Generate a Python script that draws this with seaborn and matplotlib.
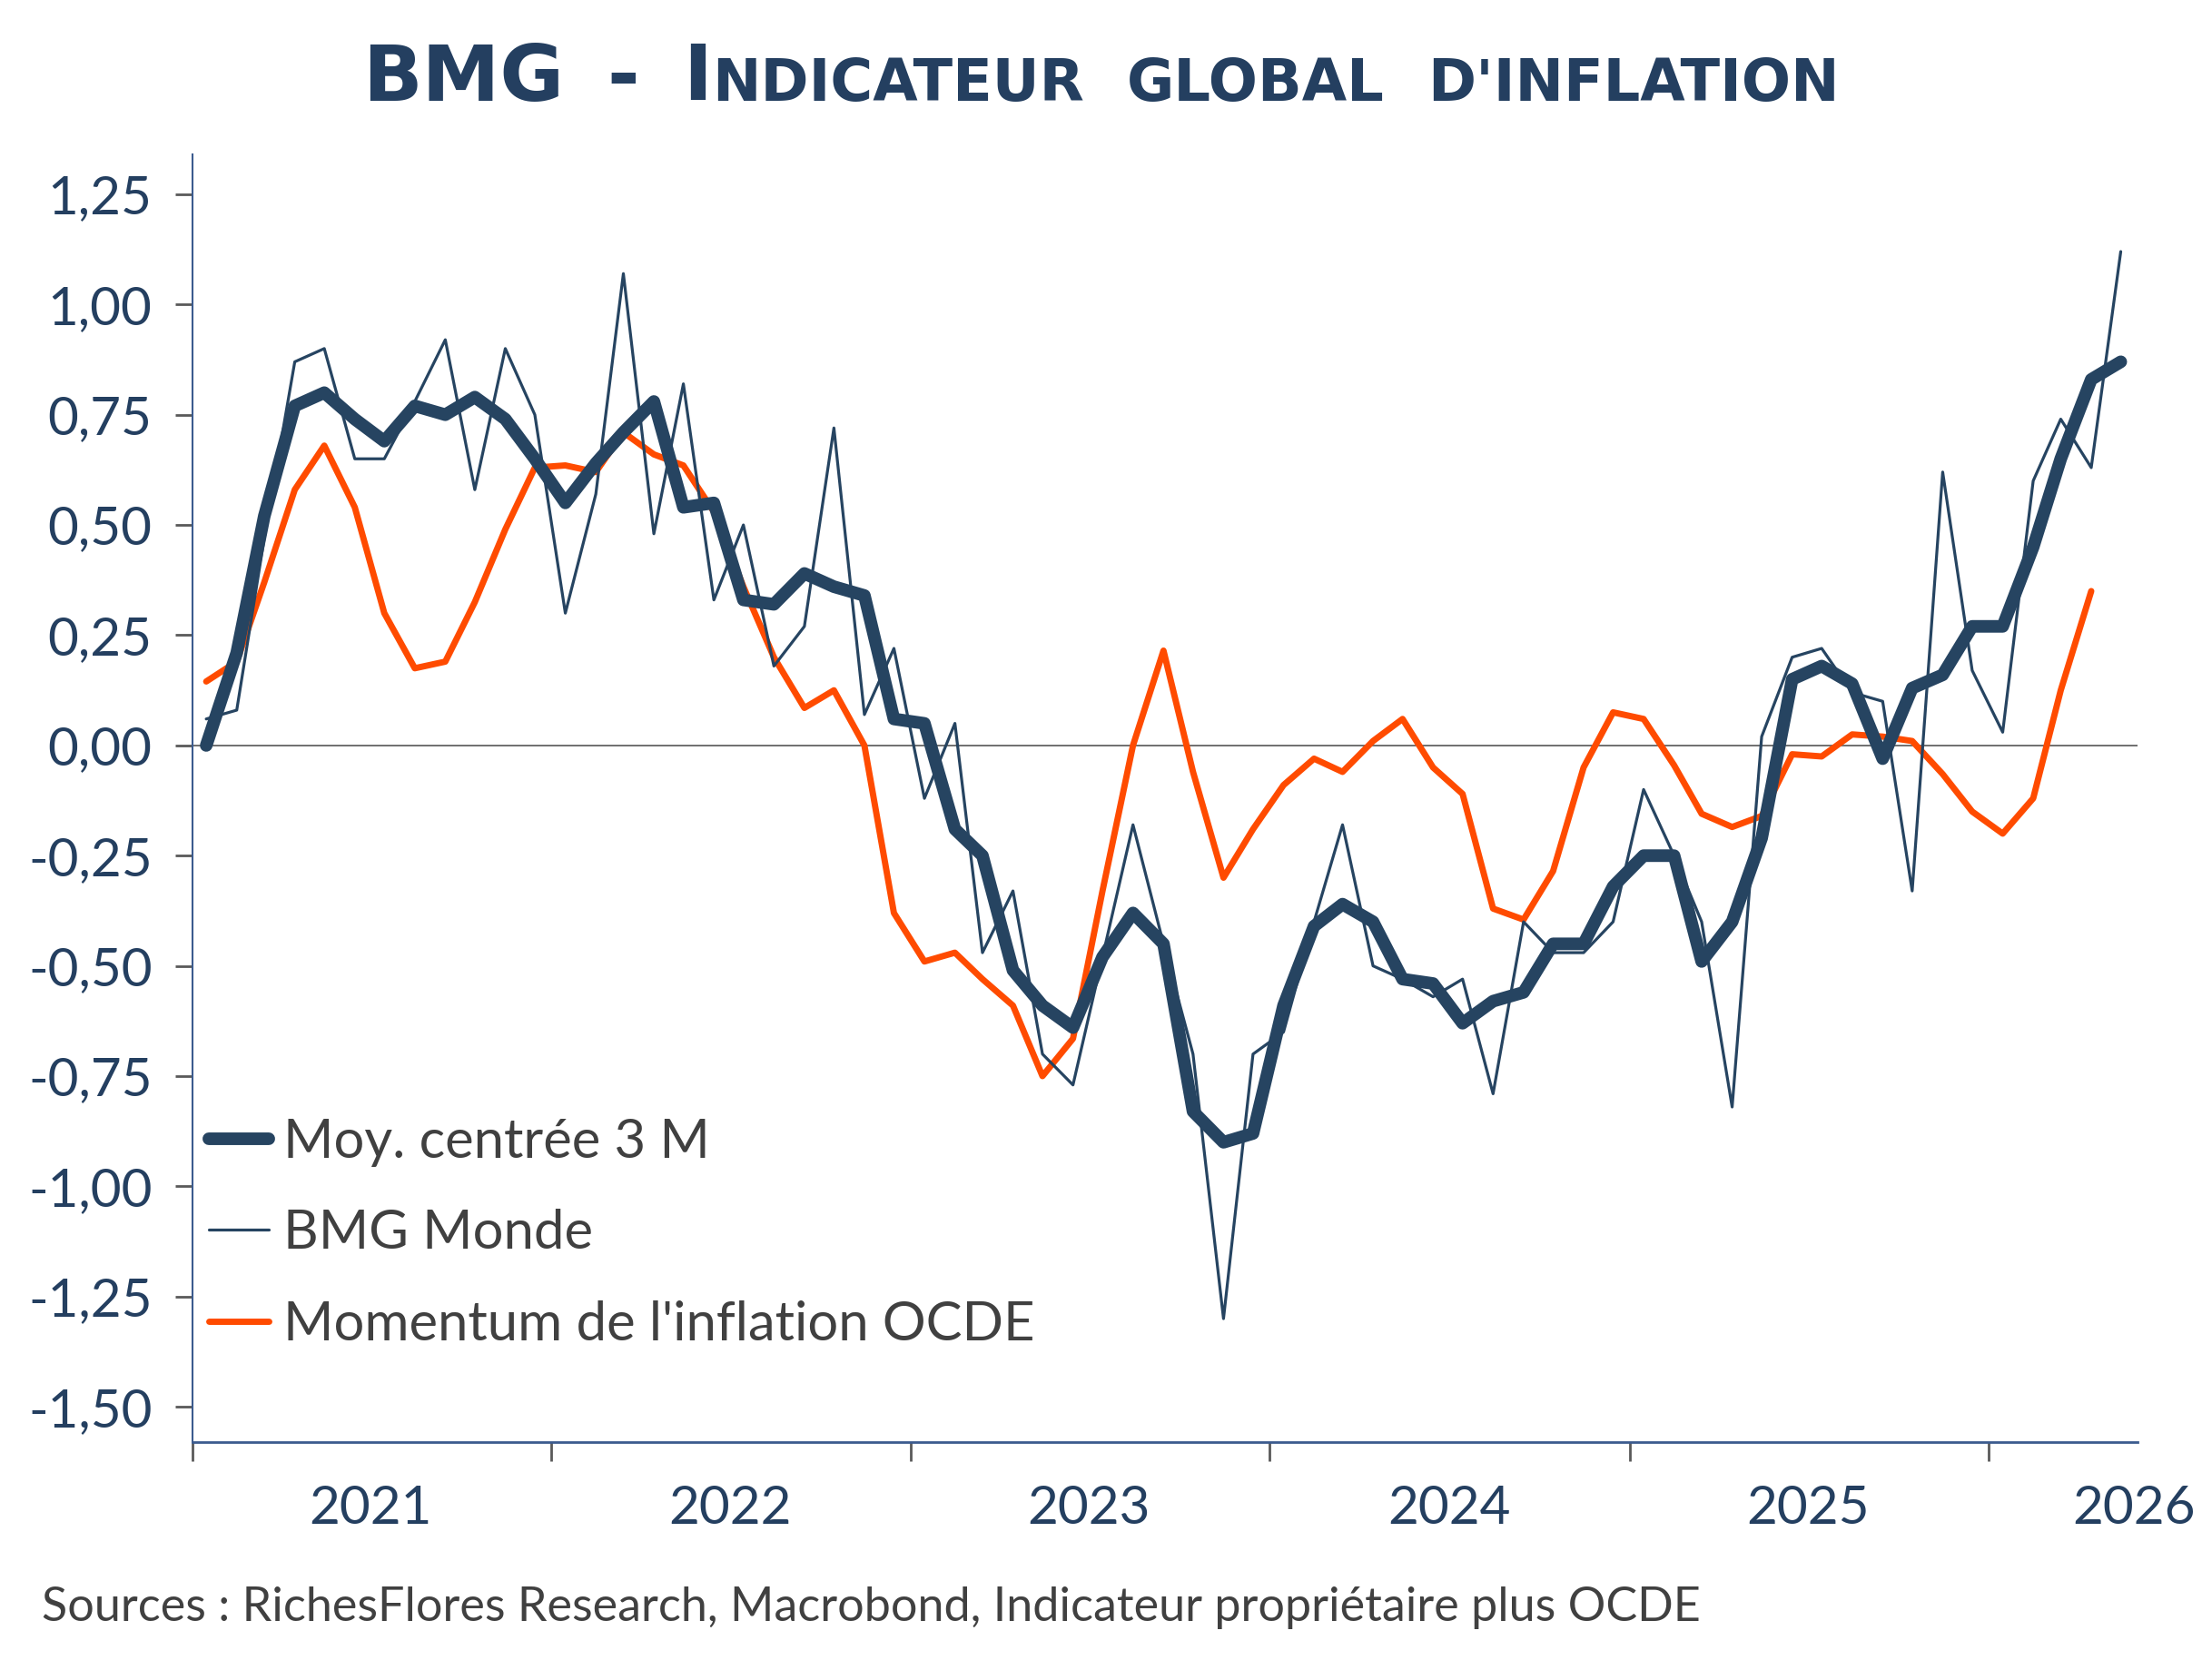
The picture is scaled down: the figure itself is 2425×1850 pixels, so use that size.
import numpy as np
import pandas as pd
import matplotlib
matplotlib.use("Agg")
import matplotlib.pyplot as plt
import seaborn as sns
from matplotlib.offsetbox import TextArea, HPacker, AnchoredOffsetbox

# monthly data, Jan 2021 -> May 2026 (points drawn mid-month)
months = pd.date_range("2021-01-01", periods=65, freq="MS") + pd.Timedelta(days=14)

moy_3m = [0.00, 0.21, 0.52, 0.77, 0.80, 0.74, 0.69, 0.77, 0.75, 0.79,
          0.74, 0.65, 0.55, 0.64, 0.71, 0.78, 0.54, 0.55, 0.33, 0.32,
          0.39, 0.36, 0.34, 0.06, 0.05, -0.19, -0.25, -0.51, -0.59, -0.64,
          -0.48, -0.38, -0.45, -0.83, -0.90, -0.88, -0.59, -0.41, -0.36, -0.40,
          -0.53, -0.54, -0.63, -0.58, -0.56, -0.45, -0.45, -0.32, -0.25, -0.25,
          -0.49, -0.40, -0.21, 0.15, 0.18, 0.14, -0.03, 0.13, 0.16, 0.27,
          0.27, 0.45, 0.65, 0.83, 0.87]

bmg_monde = [0.06, 0.08, 0.47, 0.87, 0.90, 0.65, 0.65, 0.78, 0.92, 0.58,
             0.90, 0.75, 0.30, 0.57, 1.07, 0.48, 0.82, 0.33, 0.50, 0.18,
             0.27, 0.72, 0.07, 0.22, -0.12, 0.05, -0.47, -0.33, -0.70, -0.77,
             -0.48, -0.18, -0.45, -0.70, -1.30, -0.70, -0.65, -0.40, -0.18, -0.50,
             -0.53, -0.57, -0.53, -0.79, -0.40, -0.47, -0.47, -0.40, -0.10, -0.25,
             -0.40, -0.82, 0.02, 0.20, 0.22, 0.12, 0.10, -0.33, 0.62, 0.17,
             0.03, 0.60, 0.74, 0.63, 1.12]

momentum_ocde = [0.145, 0.19, 0.37, 0.58, 0.68, 0.54, 0.30, 0.175, 0.19, 0.325,
                 0.49, 0.63, 0.635, 0.62, 0.71, 0.66, 0.635, 0.53, 0.36, 0.20,
                 0.085, 0.125, 0.0, -0.38, -0.49, -0.47, -0.53, -0.59, -0.75, -0.665,
                 -0.33, 0.0, 0.215, -0.06, -0.30, -0.19, -0.09, -0.03, -0.06, 0.01,
                 0.06, -0.05, -0.11, -0.37, -0.395, -0.285, -0.05, 0.075, 0.06, -0.045,
                 -0.155, -0.185, -0.16, -0.02, -0.025, 0.025, 0.02, 0.01, -0.065, -0.15,
                 -0.20, -0.12, 0.125, 0.35]

year_ticks = pd.to_datetime([f"{y}-01-01" for y in range(2021, 2027)])
year_labels = ["2021", "2022", "2023", "2024", "2025", "2026"]
year_label_pos = pd.to_datetime(["2021-07-01", "2022-07-01", "2023-07-01",
                                 "2024-07-01", "2025-07-01", "2026-05-28"])
y_ticks = np.arange(-1.5, 1.26, 0.25)

navy = "#264461"
orange = "#FF4B00"
txt_navy = "#243F60"
grey_txt = "#404040"
spine_col = "#3B5B8E"

sns.set_theme(style="white")
plt.rcParams["font.family"] = ["Lato", "DejaVu Sans"]

fig = plt.figure(figsize=(24.25, 18.5), dpi=100)
ax = fig.add_axes([0.0874, 0.1416, 0.8833, 0.7664])

df = pd.DataFrame({"date": months, "moy": moy_3m, "bmg": bmg_monde})
df_ocde = pd.DataFrame({"date": months[:len(momentum_ocde)], "val": momentum_ocde})

ax.axhline(0, color="#6f6f6f", lw=1.4, zorder=1)
sns.lineplot(data=df_ocde, x="date", y="val", color=orange, lw=5, ax=ax,
             label="Momentum de l'inflation OCDE", zorder=2)
sns.lineplot(data=df, x="date", y="moy", color=navy, lw=10, ax=ax,
             label="Moy. centrée 3 M", zorder=3)
sns.lineplot(data=df, x="date", y="bmg", color=navy, lw=2.3, ax=ax,
             label="BMG Monde", zorder=4)

ax.set_xlim(pd.Timestamp("2021-01-01"), pd.Timestamp("2026-06-01"))
ax.set_ylim(-1.58, 1.34)
ax.set_xlabel("")
ax.set_ylabel("")

ax.set_xticks(year_ticks)
ax.set_xticklabels([""] * len(year_ticks))
ax.set_xticks(year_label_pos, minor=True)
ax.set_xticklabels(year_labels, minor=True)
ax.tick_params(axis="x", which="major", length=15, width=2, color="#595959",
               direction="out", bottom=True)
ax.tick_params(axis="x", which="minor", length=0, pad=34, labelsize=42,
               labelcolor=txt_navy, bottom=True)

ax.set_yticks(y_ticks)
ax.set_yticklabels([f"{v:.2f}".replace(".", ",") for v in y_ticks])
ax.tick_params(axis="y", length=14, width=2, color="#595959", direction="out",
               left=True, pad=18, labelsize=42, labelcolor=txt_navy)

for s in ["top", "right"]:
    ax.spines[s].set_visible(False)
ax.spines["left"].set_color(spine_col)
ax.spines["left"].set_linewidth(1.5)
ax.spines["bottom"].set_color(spine_col)
ax.spines["bottom"].set_linewidth(2)
ax.grid(False)

handles, labels = ax.get_legend_handles_labels()
order = [labels.index(l) for l in ["Moy. centrée 3 M", "BMG Monde", "Momentum de l'inflation OCDE"]]
ax.legend([handles[i] for i in order], [labels[i] for i in order],
          loc="upper left", bbox_to_anchor=(0.0084, 0.252), frameon=False,
          fontsize=43, handlelength=1.1, handletextpad=0.28, labelspacing=0.78,
          borderaxespad=0, borderpad=0, labelcolor=grey_txt)

# title in small caps look
big = dict(fontsize=62, color=txt_navy, family="DejaVu Sans", fontweight="bold")
small = dict(fontsize=46, color=txt_navy, family="DejaVu Sans", fontweight="bold")
first = HPacker(children=[TextArea("I", textprops=big),
                          TextArea("NDICATEUR", textprops=small)],
                align="baseline", pad=0, sep=0)
title_box = HPacker(children=[TextArea("BMG", textprops=big),
                              TextArea("-", textprops=big),
                              first,
                              TextArea("GLOBAL", textprops=small),
                              TextArea("D'INFLATION", textprops=small)],
                    align="baseline", pad=0, sep=34)
anchored = AnchoredOffsetbox(loc="center", child=title_box, pad=0, borderpad=0,
                             frameon=False, bbox_to_anchor=(0.5, 1 - 87 / 1850),
                             bbox_transform=fig.transFigure)
fig.add_artist(anchored)

fig.text(0.019, 1 - 1771 / 1850,
         "Sources : RichesFlores Research, Macrobond, Indicateur propriétaire plus OCDE",
         ha="left", va="center", fontsize=37.5, color=grey_txt)

fig.savefig("out.png", dpi=100)
